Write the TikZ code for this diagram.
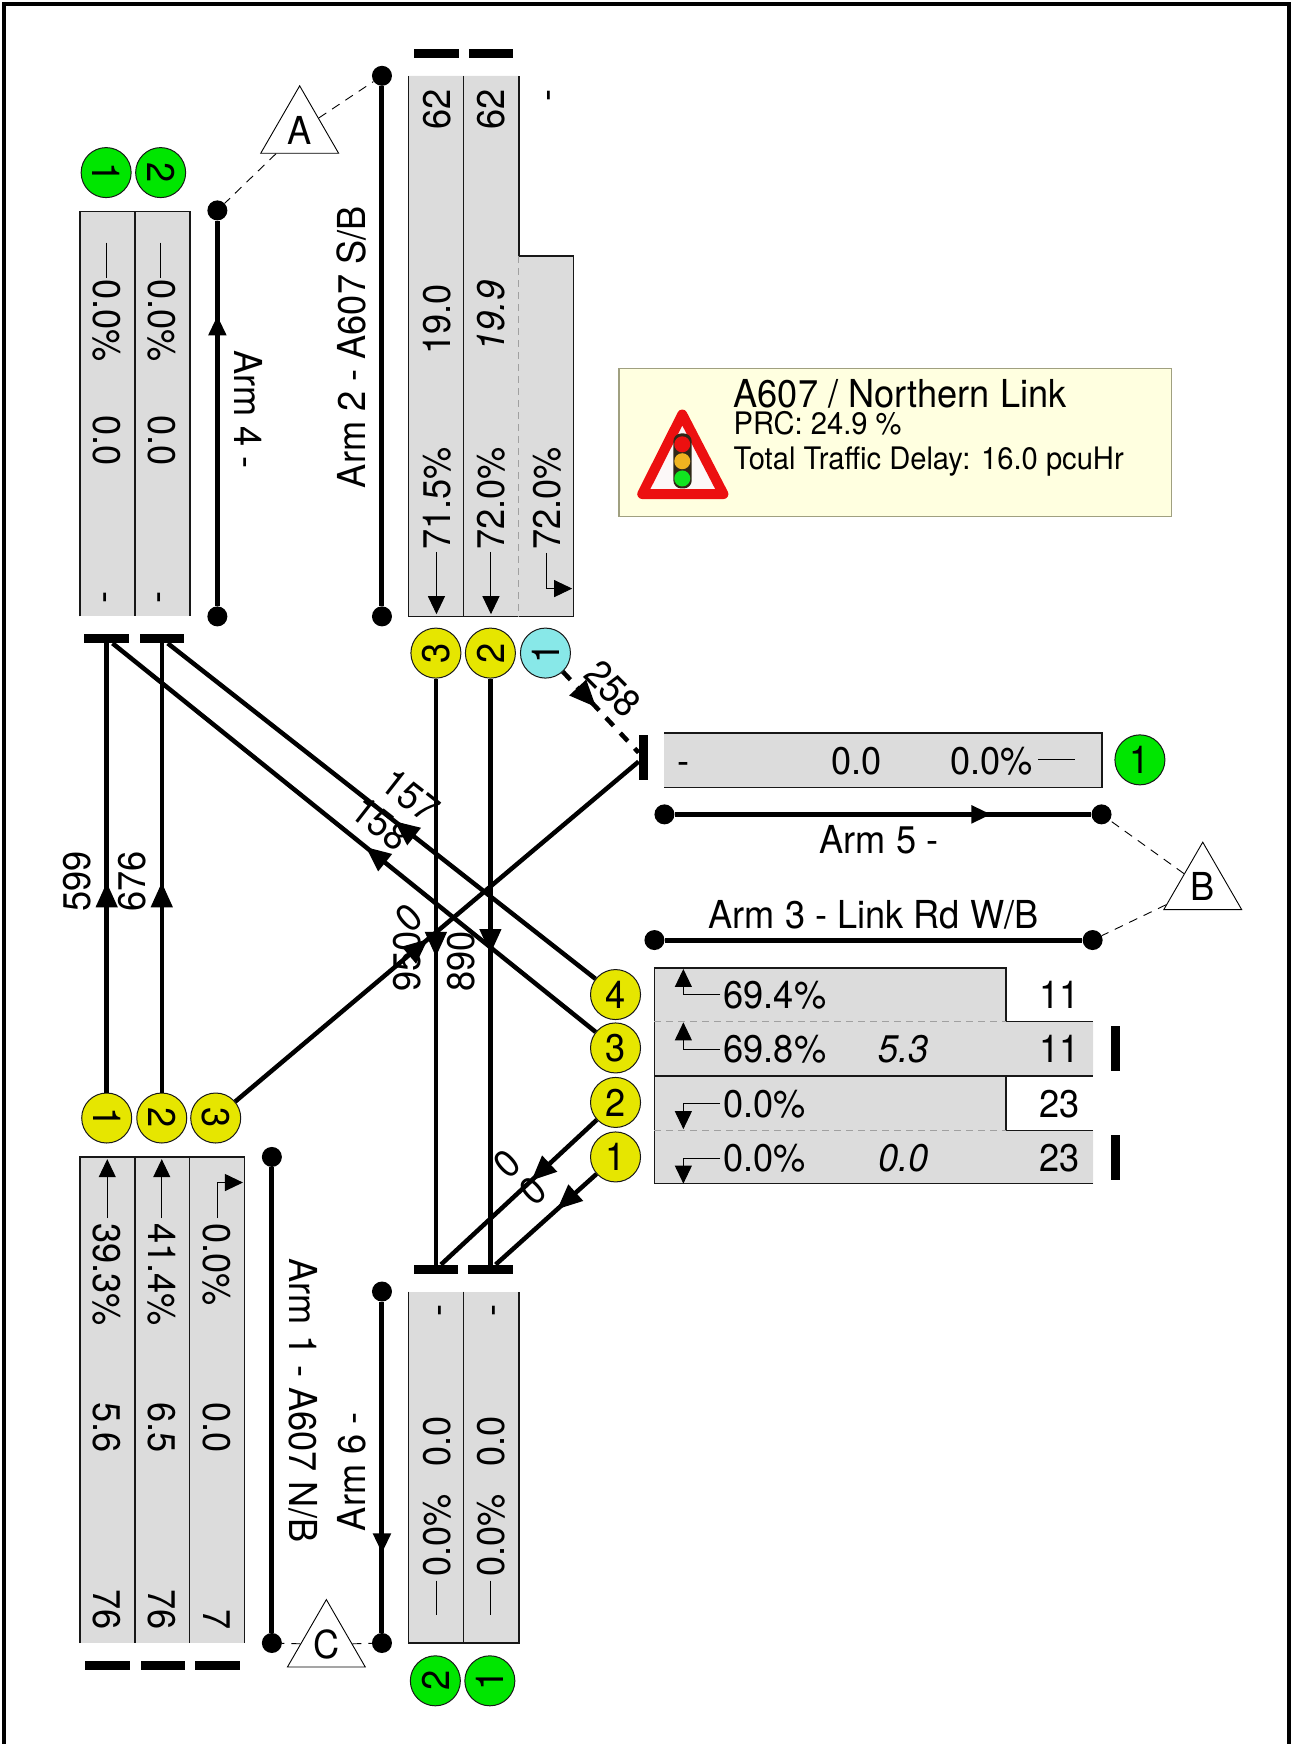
\documentclass[tikz,border=0pt]{standalone}
\usepackage{fontspec}
\setmainfont[FakeStretch=0.94]{TeX Gyre Heros}
\usetikzlibrary{arrows.meta,decorations.markings,shapes.geometric}
\definecolor{laneg}{HTML}{DCDCDC}
\definecolor{sigy}{HTML}{E6E600}
\definecolor{sigg}{HTML}{00E600}
\definecolor{sigc}{HTML}{88E8E8}
\definecolor{edgec}{HTML}{181818}
\definecolor{dashc}{HTML}{A0A0A0}
\definecolor{infof}{HTML}{FFFFE0}
\definecolor{infoe}{HTML}{A0A080}
\tikzset{
  x=1.1121pt,y=-1.1122pt,
  txt/.style={font=\fontsize{38.5}{38.5}\selectfont,inner sep=0pt,text height=27.3pt,text depth=0pt},
  itx/.style={txt,font=\fontsize{38.5}{38.5}\selectfont\itshape},
  small/.style={font=\fontsize{31}{31}\selectfont,inner sep=0pt,text height=22pt,text depth=0pt},
  up/.style={rotate=90},
  dn/.style={rotate=-90},
  sig/.style={circle,draw=edgec,line width=1pt,inner sep=0pt,minimum size=50pt,txt,fill=#1},
  hbar/.style={rectangle,fill=black,inner sep=0pt,minimum width=44.5pt,minimum height=9pt},
  vbar/.style={rectangle,fill=black,inner sep=0pt,minimum width=9pt,minimum height=44.5pt},
  dotn/.style={circle,fill=black,inner sep=0pt,minimum size=20pt},
  armline/.style={line width=5pt},
  tagdash/.style={line width=.9pt,dash pattern=on 9pt off 7pt},
  tri/.style={regular polygon,regular polygon sides=3,draw=black,line width=.9pt,fill=white,inner sep=0pt,minimum size=89.9pt,txt},
  lanefill/.style={fill=laneg},
  lanel/.style={draw=edgec,line width=1.5pt},
  lanedash/.style={draw=dashc,line width=1.3pt,dash pattern=on 7pt off 5pt},
  thinl/.style={line width=1pt},
  thina/.style={line width=1pt,-{Triangle[length=18pt,width=17pt]}},
  flow/.style={line width=4.5pt,postaction={decorate},decoration={markings,mark=at position #1 with {\arrow{Triangle[length=25pt,width=21pt]}}}},
  dflow/.style={line width=4.5pt,dash pattern=on 11pt off 10pt,postaction={decorate},decoration={markings,mark=at position #1 with {\arrow{Triangle[length=27pt,width=22pt]}}}},
  armarrow/.style={armline,postaction={decorate},decoration={markings,mark=at position #1 with {\arrow{Triangle[length=20pt,width=17pt]}}}},
}
\begin{document}
\begin{tikzpicture}
\useasboundingbox (0,0) rectangle (1160,1568);
% frame
\draw[line width=4pt] (3.6,1568) -- (3.6,3.6) -- (1158.6,3.6) -- (1158.6,1568);
\begin{scope}[xshift=0.5pt,yshift=-0.2pt]

% lane tables
\fill[lanefill] (71.5,190) rectangle (170.5,554);
\draw[lanel] (71.5,554) -- (71.5,190) -- (170.5,190) -- (170.5,554) (121,190) -- (121,554);
\fill[lanefill] (71.5,1040) rectangle (219.5,1477);
\draw[lanel] (71.5,1477) -- (71.5,1040) -- (219.5,1040) -- (219.5,1477) (121,1040) -- (121,1477) (170,1040) -- (170,1477);
\fill[lanefill] (367,1161) rectangle (466,1477);
\draw[lanel] (367,1161) -- (367,1477) -- (466,1477) -- (466,1161) (416.5,1161) -- (416.5,1477);
\fill[lanefill] (367,68) -- (466,68) -- (466,230) -- (515,230) -- (515,554) -- (367,554) -- cycle;
\draw[lanel] (367,68) -- (367,554) -- (515,554) -- (515,230) -- (466,230) -- (466,68) (416.5,68) -- (416.5,554);
\draw[lanedash] (466,230) -- (466,554);
\fill[lanefill] (597,659) rectangle (990.5,708);
\draw[lanel] (597,659) -- (990.5,659) -- (990.5,708) -- (597,708);
\fill[lanefill] (588,870) -- (904,870) -- (904,918) -- (982.5,918) -- (982.5,967) -- (904,967) -- (904,1016) -- (982.5,1016) -- (982.5,1064) -- (588,1064) -- cycle;
\draw[lanel] (982.5,1064) -- (588,1064) -- (588,870) -- (904,870) -- (904,918) -- (982.5,918) (588,967) -- (982.5,967) (904,967) -- (904,1016) -- (982.5,1016);
\draw[lanedash] (588,918) -- (904,918);
\draw[lanedash] (588,1016) -- (904,1016);

% information box
\node[draw=infoe,fill=infof,line width=1.5pt,minimum width=552.7pt,minimum height=147.9pt,inner sep=0pt] (info) at (804.5,397.5) {};
\draw[line width=10pt,line join=round,draw={rgb,255:red,236;green,16;blue,16},fill={rgb,255:red,252;green,248;blue,248}] (613,372.5) -- (650,444) -- (577,444) -- cycle;
\fill[rounded corners=8pt,fill={rgb,255:red,48;green,40;blue,24}] (605,389.5) rectangle (621.5,439);
\fill[fill={rgb,255:red,236;green,16;blue,16}] (613,399.3) circle[radius=8pt];
\fill[fill={rgb,255:red,240;green,180;blue,32}] (613,414.5) circle[radius=8pt];
\fill[fill={rgb,255:red,16;green,228;blue,32}] (613,430) circle[radius=8pt];
\node[txt,anchor=west] (ttl) at (659,353.5) {A607 / Northern Link};
\node[small,anchor=west] (prc) at (659,380.5) {PRC: 24.9 \%};
\node[small,anchor=west] (tot) at (659,412) {Total Traffic Delay: 16.0 pcuHr};

% text in lanes: arm 4
\node[txt,dn] (t41a) at (96,288) {0.0\%};
\node[txt,dn] (t41b) at (96,396) {0.0};
\node[txt,dn] (t41c) at (96.5,537) {-};
\node[txt,dn] (t42a) at (145,288) {0.0\%};
\node[txt,dn] (t42b) at (145,396) {0.0};
\node[txt,dn] (t42c) at (145.5,537) {-};
\draw[thinl] (95,218) -- (95,250);
\draw[thinl] (144,218) -- (144,250);
% arm 2
\node[txt,up] (t23a) at (392,98) {62};
\node[txt,up] (t23b) at (392,287) {19.0};
\node[txt,up] (t23c) at (392,448) {71.5\%};
\node[txt,up] (t22a) at (441,98) {62};
\node[itx,up] (t22b) at (441,284) {19.9};
\node[txt,up] (t22c) at (441,448) {72.0\%};
\node[txt,up] (t21a) at (490,86) {-};
\node[txt,up] (t21c) at (491,448) {72.0\%};
\draw[thina] (392,496) -- (392,552);
\draw[thina] (441,496) -- (441,552);
\draw[thina] (491,497) -- (491,529) -- (514,529);
% arm 1
\node[txt,dn] (t11a) at (96,1146) {39.3\%};
\node[txt,dn] (t11b) at (96,1283) {5.6};
\node[txt,dn] (t11c) at (96,1447) {76};
\node[txt,dn] (t12a) at (145,1146) {41.4\%};
\node[txt,dn] (t12b) at (145,1283) {6.5};
\node[txt,dn] (t12c) at (145,1447) {76};
\node[txt,dn] (t13a) at (195,1137) {0.0\%};
\node[txt,dn] (t13b) at (195,1283) {0.0};
\node[txt,dn] (t13c) at (195,1456) {7};
\draw[thina] (96,1095) -- (96,1042);
\draw[thina] (145,1095) -- (145,1042);
\draw[thina] (195,1095) -- (195,1063) -- (218,1063);
% arm 6
\node[txt,up] (t62a) at (392,1178) {-};
\node[txt,up] (t62b) at (392,1296) {0.0};
\node[txt,up] (t62c) at (392,1380) {0.0\%};
\node[txt,up] (t61a) at (441,1178) {-};
\node[txt,up] (t61b) at (441,1296) {0.0};
\node[txt,up] (t61c) at (441,1380) {0.0\%};
\draw[thinl] (392,1421) -- (392,1452);
\draw[thinl] (441,1421) -- (441,1452);
% arm 5
\node[txt] (t5a) at (614,684) {-};
\node[txt] (t5b) at (769.5,684) {0.0};
\node[txt] (t5c) at (891,684) {0.0\%};
\draw[thinl] (933,683) -- (966,683);
% arm 3
\node[txt,anchor=west] (t34a) at (650,894.5) {69.4\%};
\node[txt,anchor=west] (t33a) at (650,943) {69.8\%};
\node[txt,anchor=west] (t32a) at (650,992.5) {0.0\%};
\node[txt,anchor=west] (t31a) at (650,1041) {0.0\%};
\node[itx] (t33b) at (812,943) {5.3};
\node[itx] (t31b) at (812,1041) {0.0};
\node[txt] (t34c) at (952,894.5) {11};
\node[txt] (t33c) at (952,943) {11};
\node[txt] (t32c) at (952,992.5) {23};
\node[txt] (t31c) at (952,1041) {23};
\draw[thina] (647,894) -- (614,894) -- (614,871);
\draw[thina] (647,943) -- (614,943) -- (614,919);
\draw[thina] (647,992) -- (614,992) -- (614,1015);
\draw[thina] (647,1041) -- (614,1041) -- (614,1064);

% flow labels
\node[txt,up] (l599) at (69,792) {599};
\node[txt,up] (l676) at (118,792) {676};
\node[txt,up] (l950) at (365,864) {950};
\node[txt,up] (l890) at (413.6,864) {890};
\node[txt,rotate=42] (l0a) at (367,825) {0};
\node[txt,rotate=-38] (l157) at (369,715) {157};
\node[txt,rotate=-38] (l158) at (342,740) {158};
\node[txt,rotate=-45] (l258) at (551,619) {258};
\node[txt,rotate=42] (l0b) at (455,1046) {0};
\node[txt,rotate=42] (l0c) at (479,1070) {0};

% signal heads
\node[sig=sigg,dn] (s41) at (95,155) {1};
\node[sig=sigg,dn] (s42) at (144,155) {2};
\node[sig=sigy,up] (s23) at (391.5,587) {3};
\node[sig=sigy,up] (s22) at (440.5,587) {2};
\node[sig=sigc,up] (s21) at (490,587) {1};
\node[sig=sigg] (s51) at (1024.5,683) {1};
\node[sig=sigy] (s34) at (553,894) {4};
\node[sig=sigy] (s33) at (553,942) {3};
\node[sig=sigy] (s32) at (553,991) {2};
\node[sig=sigy] (s31) at (553,1040) {1};
\node[sig=sigy,dn] (s11) at (95.5,1005) {1};
\node[sig=sigy,dn] (s12) at (145,1005) {2};
\node[sig=sigy,dn] (s13) at (193.5,1005) {3};
\node[sig=sigg,up] (s62) at (391,1511) {2};
\node[sig=sigg,up] (s61) at (440,1511) {1};

% stop bars
\node[hbar] (b41) at (95.5,574) {};
\node[hbar] (b42) at (145,574) {};
\node[hbar] (b23) at (392,48) {};
\node[hbar] (b22) at (441,48) {};
\node[hbar] (b61) at (391.5,1141) {};
\node[hbar] (b62) at (440.5,1141) {};
\node[hbar] (b11) at (96,1497) {};
\node[hbar] (b12) at (146,1497) {};
\node[hbar] (b13) at (195,1497) {};
\node[vbar] (b5) at (578,681) {};
\node[vbar] (b33) at (1002.5,942.5) {};
\node[vbar] (b31) at (1002.5,1040.5) {};

% traffic flows
\draw[flow=.468] (s11) -- (b41);
\draw[flow=.468] (s12) -- (b42);
\draw[flow=.478] (s13) -- (b5);
\draw[flow=.475] (s23) -- (b61);
\draw[flow=.47] (s22) -- (b62);
\draw[flow=.47] (s34) -- (b42);
\draw[flow=.476] (s33) -- (b41);
\draw[flow=.42] (s32) -- (b61);
\draw[flow=.39] (s31) -- (b62);
\draw[dflow=.44] (s21) -- (b5);

% arm lines
\node[dotn] (d4a) at (195,554) {};
\node[dotn] (d4b) at (195,189) {};
\node[dotn] (d2a) at (343,68) {};
\node[dotn] (d2b) at (343,554) {};
\node[dotn] (d5a) at (597,732) {};
\node[dotn] (d5b) at (990,732) {};
\node[dotn] (d3a) at (588,845) {};
\node[dotn] (d3b) at (982,845) {};
\node[dotn] (d1a) at (244,1040) {};
\node[dotn] (d1b) at (244,1477) {};
\node[dotn] (d6a) at (343,1161) {};
\node[dotn] (d6b) at (343,1477) {};
\draw[armarrow=.754] (d4a) -- (d4b);
\draw[armline] (d2a) -- (d2b);
\draw[armarrow=.76] (d5a) -- (d5b);
\draw[armline] (d3a) -- (d3b);
\draw[armline] (d1a) -- (d1b);
\draw[armarrow=.76] (d6a) -- (d6b);
\node[txt,dn] (n4) at (223,368) {Arm 4 -};
\node[txt,up] (n2) at (316,312) {Arm 2 - A607 S/B};
\node[txt] (n5) at (790,755) {Arm 5 -};
\node[txt] (n3) at (785,822) {Arm 3 - Link Rd W/B};
\node[txt,dn] (n1) at (272,1259) {Arm 1 - A607 N/B};
\node[txt,up] (n6) at (316,1323) {Arm 6 -};

% arm group tags
\node[tri] (ta) at (269,117.4) {A};
\node[tri] (tb) at (1081,797.4) {B};
\node[tri] (tc) at (293,1478.4) {C};
\draw[tagdash] (ta) -- (d2a);
\draw[tagdash] (ta) -- (d4b);
\draw[tagdash] (tb) -- (d5b);
\draw[tagdash] (tb) -- (d3b);
\draw[tagdash] (tc) -- (d1b);
\draw[tagdash] (tc) -- (d6b);
\end{scope}
\end{tikzpicture}
\end{document}
